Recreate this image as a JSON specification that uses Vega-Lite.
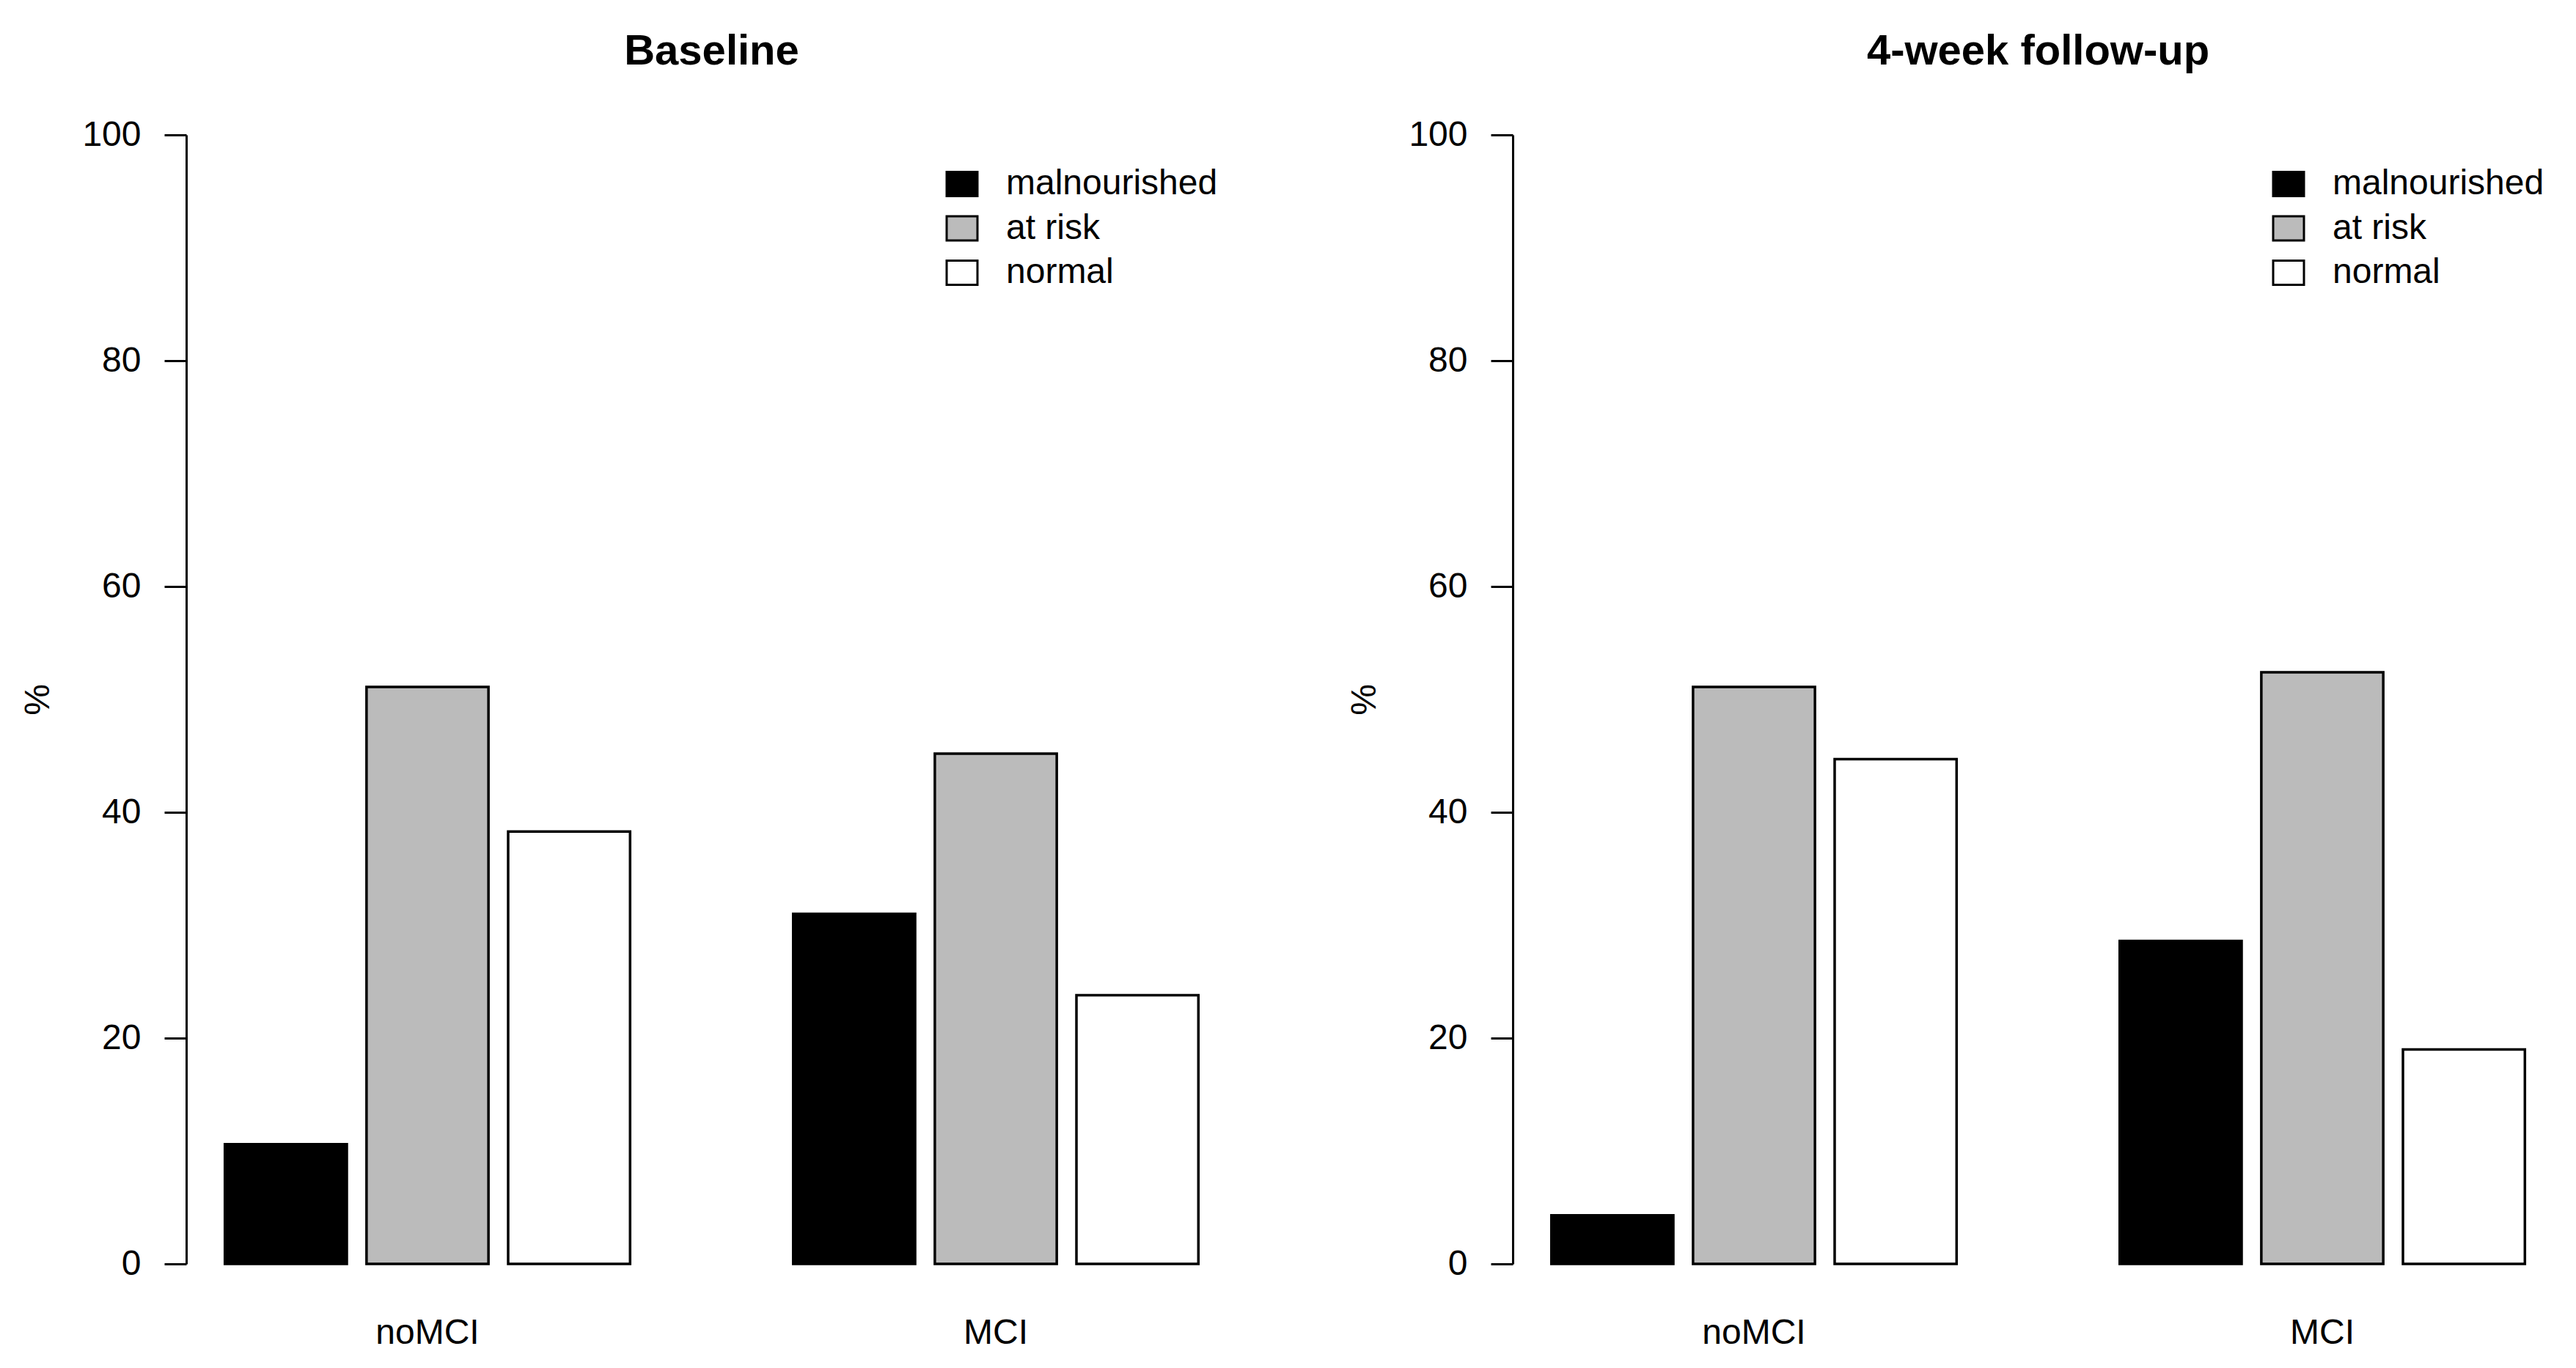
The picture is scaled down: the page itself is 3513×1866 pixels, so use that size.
{
  "$schema": "https://vega.github.io/schema/vega-lite/v6.json",
  "padding": {"left": 28, "top": 42, "right": 0, "bottom": 0},
  "background": "white",
  "data": {"values": [
    {"time": "Baseline", "group": "noMCI", "status": "malnourished", "pct": 10.6},
    {"time": "Baseline", "group": "noMCI", "status": "at risk", "pct": 51.1},
    {"time": "Baseline", "group": "noMCI", "status": "normal", "pct": 38.3},
    {"time": "Baseline", "group": "MCI", "status": "malnourished", "pct": 31.0},
    {"time": "Baseline", "group": "MCI", "status": "at risk", "pct": 45.2},
    {"time": "Baseline", "group": "MCI", "status": "normal", "pct": 23.8},
    {"time": "4-week follow-up", "group": "noMCI", "status": "malnourished", "pct": 4.3},
    {"time": "4-week follow-up", "group": "noMCI", "status": "at risk", "pct": 51.1},
    {"time": "4-week follow-up", "group": "noMCI", "status": "normal", "pct": 44.7},
    {"time": "4-week follow-up", "group": "MCI", "status": "malnourished", "pct": 28.6},
    {"time": "4-week follow-up", "group": "MCI", "status": "at risk", "pct": 52.4},
    {"time": "4-week follow-up", "group": "MCI", "status": "normal", "pct": 19.0}
  ]},
  "spacing": 150,
  "resolve": {"scale": {"fill": "independent"}, "legend": {"fill": "independent"}},
  "hconcat": [
    {
      "title": {"text": "Baseline", "fontSize": 58, "fontWeight": "bold", "anchor": "middle", "offset": 60, "color": "black"},
      "width": 1433,
      "height": 1540,
      "transform": [{"filter": "datum.time === 'Baseline'"}],
      "mark": {"type": "bar", "stroke": "black", "strokeWidth": 3.5},
      "encoding": {
        "x": {"field": "group", "type": "nominal", "sort": ["noMCI", "MCI"],
              "scale": {"paddingInner": 0.287, "paddingOuter": 0.068},
              "axis": {"title": null, "domain": false, "ticks": false, "labelAngle": 0, "labelFontSize": 48, "labelPadding": 70, "labelColor": "black"}},
        "xOffset": {"field": "status", "type": "nominal", "sort": ["malnourished", "at risk", "normal"],
                    "scale": {"paddingInner": 0.139, "paddingOuter": 0}},
        "y": {"field": "pct", "type": "quantitative",
              "scale": {"domain": [0, 100], "nice": false},
              "axis": {"title": "%", "values": [0, 20, 40, 60, 80, 100], "grid": false, "tickSize": 30, "tickWidth": 3, "domainWidth": 3, "domainColor": "black", "tickColor": "black", "labelFontSize": 48, "labelPadding": 32, "labelColor": "black", "titleFontSize": 48, "titleFontWeight": "normal", "titleColor": "black", "titlePadding": 35}},
        "fill": {"field": "status", "type": "nominal", "sort": ["malnourished", "at risk", "normal"],
                 "scale": {"domain": ["malnourished", "at risk", "normal"], "range": ["#000000", "#bbbbbb", "#ffffff"]},
                 "legend": {"title": null, "orient": "none", "legendX": 1034, "legendY": 43, "symbolType": "M-1,-0.786H1V0.786H-1Z", "symbolSize": 1764, "symbolStrokeColor": "black", "symbolStrokeWidth": 3, "labelFontSize": 48, "labelLimit": 0, "labelOffset": 36, "rowPadding": 12.5, "padding": 0, "labelColor": "black"}}
      }
    },
    {
      "title": {"text": "4-week follow-up", "fontSize": 58, "fontWeight": "bold", "anchor": "middle", "offset": 60, "color": "black"},
      "width": 1433,
      "height": 1540,
      "transform": [{"filter": "datum.time === '4-week follow-up'"}],
      "mark": {"type": "bar", "stroke": "black", "strokeWidth": 3.5},
      "encoding": {
        "x": {"field": "group", "type": "nominal", "sort": ["noMCI", "MCI"],
              "scale": {"paddingInner": 0.287, "paddingOuter": 0.068},
              "axis": {"title": null, "domain": false, "ticks": false, "labelAngle": 0, "labelFontSize": 48, "labelPadding": 70, "labelColor": "black"}},
        "xOffset": {"field": "status", "type": "nominal", "sort": ["malnourished", "at risk", "normal"],
                    "scale": {"paddingInner": 0.139, "paddingOuter": 0}},
        "y": {"field": "pct", "type": "quantitative",
              "scale": {"domain": [0, 100], "nice": false},
              "axis": {"title": "%", "values": [0, 20, 40, 60, 80, 100], "grid": false, "tickSize": 30, "tickWidth": 3, "domainWidth": 3, "domainColor": "black", "tickColor": "black", "labelFontSize": 48, "labelPadding": 32, "labelColor": "black", "titleFontSize": 48, "titleFontWeight": "normal", "titleColor": "black", "titlePadding": 35}},
        "fill": {"field": "status", "type": "nominal", "sort": ["malnourished", "at risk", "normal"],
                 "scale": {"domain": ["malnourished", "at risk", "normal"], "range": ["#000000", "#bbbbbb", "#ffffff"]},
                 "legend": {"title": null, "orient": "none", "legendX": 1034, "legendY": 43, "symbolType": "M-1,-0.786H1V0.786H-1Z", "symbolSize": 1764, "symbolStrokeColor": "black", "symbolStrokeWidth": 3, "labelFontSize": 48, "labelLimit": 0, "labelOffset": 36, "rowPadding": 12.5, "padding": 0, "labelColor": "black"}}
      }
    }
  ],
  "config": {"font": "Liberation Sans", "view": {"stroke": null}}
}
